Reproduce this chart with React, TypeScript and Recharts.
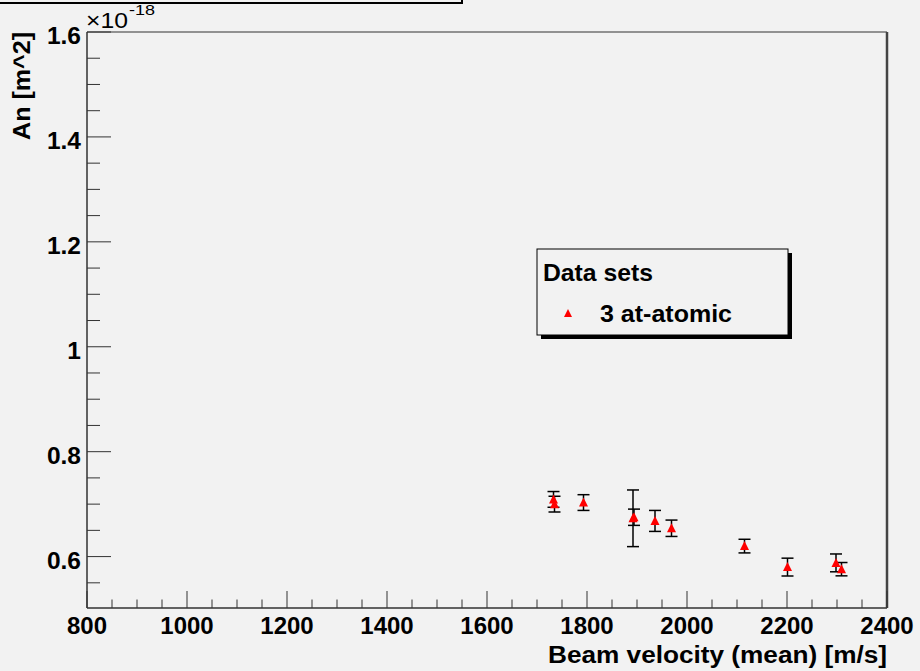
import React from "react";
import {
  ScatterChart,
  Scatter,
  XAxis,
  YAxis,
  ErrorBar,
  ReferenceArea,
  ReferenceLine,
} from "recharts";

// beam velocity (mean) [m/s]
const velocity = [1733, 1735, 1793, 1892, 1894, 1936, 1969, 2115, 2201, 2298, 2309];
// An [m^2] in units of 1e-18
const an = [0.709, 0.7, 0.703, 0.673, 0.675, 0.668, 0.654, 0.62, 0.58, 0.588, 0.576];
const anErr = [0.015, 0.015, 0.015, 0.054, 0.0155, 0.02, 0.0156, 0.013, 0.017, 0.017, 0.0127];

const xMajorTicks = [800, 1000, 1200, 1400, 1600, 1800, 2000, 2200, 2400];
const yMajorTicks = [0.6, 0.8, 1, 1.2, 1.4, 1.6];
const yTickLabels = ["0.6", "0.8", "1", "1.2", "1.4", "1.6"];

const xMinorTicks = Array.from({ length: 33 }, (_, i) => 800 + i * 50);
const yMinorTicks = Array.from({ length: 22 }, (_, i) => Math.round((0.55 + i * 0.05) * 100) / 100);

const data = velocity.map((v, i) => ({ v, an: an[i], err: anErr[i] }));

const FONT = "'Liberation Sans', Arial, Helvetica, sans-serif";
const BG = "#f2f2f2";
const INK = "#000";

const XTick = (props: any) => {
  const { x, y, payload } = props;
  const val = payload.value;
  const major = xMajorTicks.includes(val);
  return (
    <g>
      <line x1={x} x2={x} y1={y} y2={y - (major ? 17 : 8.5)} stroke="#333" />
      {major && (
        <text x={x} y={y + 26} textAnchor="middle" fontFamily={FONT} fontWeight="bold" fontSize={24} fill={INK}>
          {val}
        </text>
      )}
    </g>
  );
};

const YTick = (props: any) => {
  const { x, y, payload } = props;
  const val = payload.value;
  const idx = yMajorTicks.findIndex((t) => Math.abs(t - val) < 1e-6);
  const major = idx >= 0;
  return (
    <g>
      <line x1={x} x2={x + (major ? 24 : 13)} y1={y} y2={y} stroke="#333" />
      {major && (
        <text x={x - 6} y={y + 12} textAnchor="end" fontFamily={FONT} fontWeight="bold" fontSize={24.5} fill={INK}>
          {yTickLabels[idx]}
        </text>
      )}
    </g>
  );
};

const Triangle = (props: any) => {
  const { cx, cy } = props;
  return (
    <polygon
      points={`${cx},${cy - 5} ${cx - 4.5},${cy + 4} ${cx + 4.5},${cy + 4}`}
      fill="#ff0000"
    />
  );
};

export default function App() {
  return (
    <div style={{ position: "absolute", left: 0, top: 0, width: 920, height: 671, background: BG, overflow: "hidden" }}>
      <ScatterChart width={920} height={671} margin={{ top: 32, right: 33, left: 0, bottom: 0 }}>
        <XAxis
          type="number"
          dataKey="v"
          domain={[800, 2400]}
          ticks={xMinorTicks}
          interval={0}
          height={63}
          tickSize={0}
          tickMargin={0}
          tickLine={false}
          axisLine={{ stroke: "#333" }}
          tick={<XTick />}
          allowDataOverflow
        />
        <YAxis
          type="number"
          dataKey="an"
          domain={[0.502, 1.6]}
          ticks={yMinorTicks}
          interval={0}
          width={87}
          tickSize={0}
          tickMargin={0}
          tickLine={false}
          axisLine={{ stroke: "#333" }}
          tick={<YTick />}
          allowDataOverflow
        />
        <ReferenceArea x1={800} x2={2400} y1={0.502} y2={1.6} fill="none" stroke="#333" strokeWidth={1} />
        <ReferenceLine x={2400} stroke="#444" strokeWidth={2.5} />
        <Scatter data={data} shape={<Triangle />} isAnimationActive={false}>
          <ErrorBar dataKey="err" direction="y" width={6} stroke="#000" strokeWidth={1.5} isAnimationActive={false} />
        </Scatter>
      </ScatterChart>

      <svg
        width={920}
        height={671}
        style={{ position: "absolute", left: 0, top: 0, pointerEvents: "none" }}
      >
        {/* clipped title box at the top */}
        <rect x={-2} y={-40} width={464} height={43} fill="none" stroke="#000" strokeWidth={2} />
        {/* exponent */}
        <text x={86} y={28} fontFamily={FONT} fontSize={22} fill={INK} textLength={42} lengthAdjust="spacingAndGlyphs">
          ×10
        </text>
        <text x={129} y={15} fontFamily={FONT} fontSize={14} fill={INK} textLength={26} lengthAdjust="spacingAndGlyphs">
          -18
        </text>
        {/* axis titles */}
        <text
          transform="translate(30,32) rotate(-90)"
          textAnchor="end"
          fontFamily={FONT}
          fontWeight="bold"
          fontSize={24}
          fill={INK}
          textLength={108}
          lengthAdjust="spacingAndGlyphs"
        >
          An [m^2]
        </text>
        <text
          x={887}
          y={663}
          textAnchor="end"
          fontFamily={FONT}
          fontWeight="bold"
          fontSize={23}
          fill={INK}
          textLength={339}
          lengthAdjust="spacingAndGlyphs"
        >
          Beam velocity (mean) [m/s]
        </text>
        {/* legend */}
        <rect x={541} y={253} width={251} height={86} fill="#000" />
        <rect x={537} y={249} width={251} height={86} fill={BG} stroke="#000" strokeWidth={1} />
        <text x={543} y={281} fontFamily={FONT} fontWeight="bold" fontSize={24} fill={INK} textLength={110} lengthAdjust="spacingAndGlyphs">
          Data sets
        </text>
        <polygon points="568,309 564,317 572,317" fill="#ff0000" />
        <text x={600} y={322} fontFamily={FONT} fontWeight="bold" fontSize={24} fill={INK} textLength={132} lengthAdjust="spacingAndGlyphs">
          3 at-atomic
        </text>
      </svg>
    </div>
  );
}
